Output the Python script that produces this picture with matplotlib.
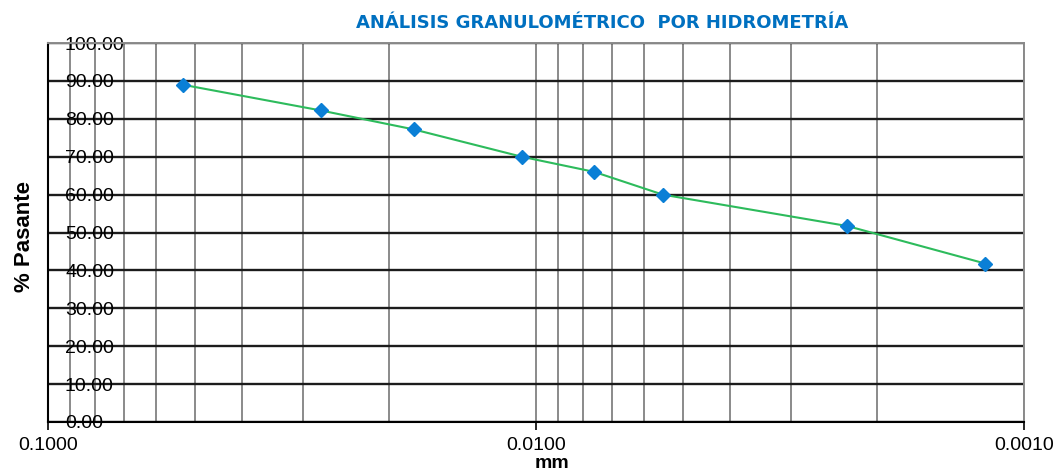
import matplotlib
matplotlib.use("Agg")
import matplotlib.pyplot as plt
from matplotlib.ticker import LogLocator, NullFormatter, FixedLocator

# diametro (mm) y % que pasa
diametro = [0.0530, 0.0276, 0.0178, 0.0107, 0.0076, 0.0055, 0.0023, 0.0012]
pasante = [89.0, 82.2, 77.2, 70.0, 66.0, 60.0, 51.7, 41.8]

x_ticks = [0.1, 0.01, 0.001]
x_labels = ["0.1000", "0.0100", "0.0010"]
y_ticks = list(range(0, 101, 10))
y_labels = ["%.2f" % v for v in y_ticks]

plt.rcParams["font.family"] = ["Liberation Sans", "DejaVu Sans"]

fig = plt.figure(figsize=(10.57, 4.71), dpi=100)
ax = fig.add_axes([48 / 1057, 1 - 422 / 471, 976 / 1057, 379 / 471])

ax.set_xscale("log")
ax.set_xlim(0.1, 0.001)
ax.set_ylim(0, 100)

# rejilla
ax.xaxis.set_minor_locator(LogLocator(base=10, subs=range(2, 10)))
ax.xaxis.set_minor_formatter(NullFormatter())
ax.grid(True, which="both", axis="x", color="#8a8a8a", lw=1.4)
ax.grid(True, which="major", axis="y", color="#1c1c1c", lw=1.7)
ax.set_axisbelow(True)

ax.plot(diametro, pasante, "-", color="#2dbb5c", lw=1.5, zorder=3)
ax.plot(diametro, pasante, "D", color="#0a7fd6", ms=7, mec="#0a7fd6", zorder=4)

ax.xaxis.set_major_locator(FixedLocator(x_ticks))
ax.set_xticklabels(x_labels, fontsize=14)
ax.tick_params(axis="x", which="major", length=6, width=1.2, color="black", pad=5)
ax.tick_params(axis="x", which="minor", length=0)

ax.set_yticks(y_ticks)
ax.set_yticklabels(y_labels, fontsize=14, ha="left")
ax.tick_params(axis="y", length=0, pad=-17 * 0.72)

for s in ["left", "bottom"]:
    ax.spines[s].set_color("black")
    ax.spines[s].set_linewidth(1.5)
for s in ["top", "right"]:
    ax.spines[s].set_color("#8a8a8a")
    ax.spines[s].set_linewidth(1.4)

fig.text(25 / 1057, 1 - 237 / 471, "% Pasante", rotation=90, ha="center",
         va="center", fontsize=16, fontweight="bold")
fig.text(552 / 1057, 1 - 463 / 471, "mm", ha="center", va="center",
         fontsize=14, fontweight="bold")
fig.text(602 / 1057, 1 - 23 / 471, "ANÁLISIS GRANULOMÉTRICO  POR HIDROMETRÍA",
         ha="center", va="center", fontsize=13, fontweight="bold",
         color="#0070c0", family="DejaVu Sans")

fig.savefig("out.png", dpi=100)
